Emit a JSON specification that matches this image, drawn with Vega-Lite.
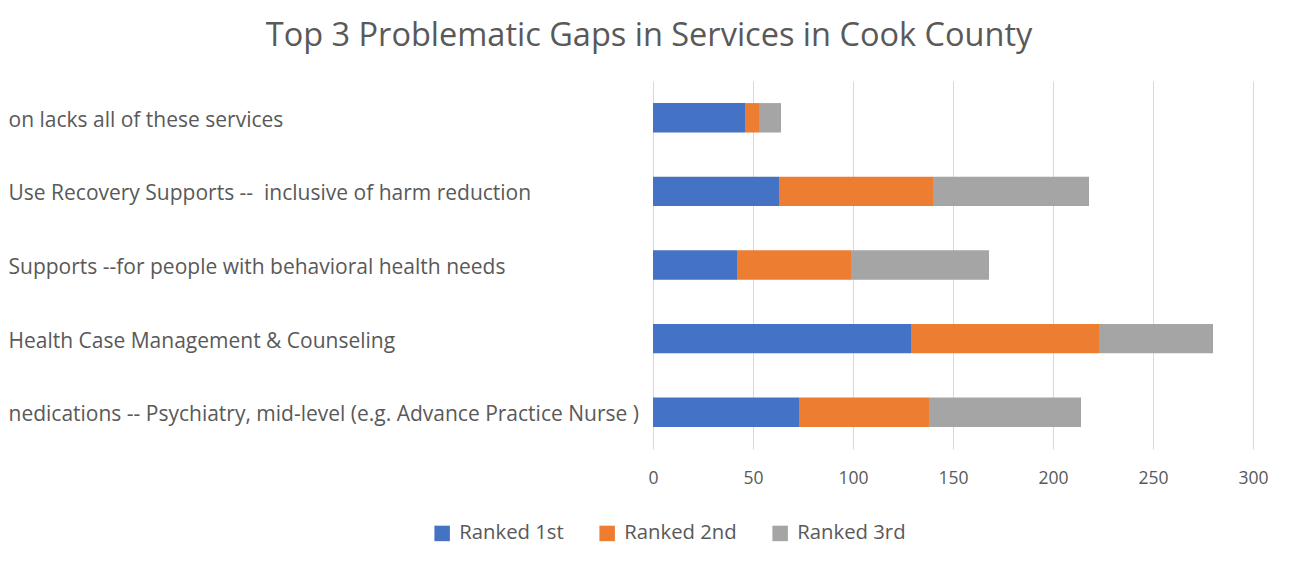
{
  "$schema": "https://vega.github.io/schema/vega-lite/v6.json",
  "width": 600,
  "height": 368,
  "autosize": {"type": "none"},
  "padding": {"left": 653, "top": 81, "right": 46, "bottom": 118},
  "background": "white",
  "title": {
    "text": "Top 3 Problematic Gaps in Services in Cook County",
    "fontSize": 32.5,
    "font": "Open Sans",
    "fontWeight": "normal",
    "color": "#595959",
    "anchor": "middle",
    "frame": "group",
    "dx": -304,
    "offset": 29
  },
  "data": {
    "values": [
      {"service": "on lacks all of these services", "rank": "Ranked 1st", "order": 1, "count": 46},
      {"service": "on lacks all of these services", "rank": "Ranked 2nd", "order": 2, "count": 7},
      {"service": "on lacks all of these services", "rank": "Ranked 3rd", "order": 3, "count": 11},
      {"service": "Use Recovery Supports --\u00a0 inclusive of harm reduction", "rank": "Ranked 1st", "order": 1, "count": 63},
      {"service": "Use Recovery Supports --\u00a0 inclusive of harm reduction", "rank": "Ranked 2nd", "order": 2, "count": 77},
      {"service": "Use Recovery Supports --\u00a0 inclusive of harm reduction", "rank": "Ranked 3rd", "order": 3, "count": 78},
      {"service": "Supports --for people with behavioral health needs", "rank": "Ranked 1st", "order": 1, "count": 42},
      {"service": "Supports --for people with behavioral health needs", "rank": "Ranked 2nd", "order": 2, "count": 57},
      {"service": "Supports --for people with behavioral health needs", "rank": "Ranked 3rd", "order": 3, "count": 69},
      {"service": "Health Case Management & Counseling", "rank": "Ranked 1st", "order": 1, "count": 129},
      {"service": "Health Case Management & Counseling", "rank": "Ranked 2nd", "order": 2, "count": 94},
      {"service": "Health Case Management & Counseling", "rank": "Ranked 3rd", "order": 3, "count": 57},
      {"service": "nedications -- Psychiatry, mid-level (e.g. Advance Practice Nurse )", "rank": "Ranked 1st", "order": 1, "count": 73},
      {"service": "nedications -- Psychiatry, mid-level (e.g. Advance Practice Nurse )", "rank": "Ranked 2nd", "order": 2, "count": 65},
      {"service": "nedications -- Psychiatry, mid-level (e.g. Advance Practice Nurse )", "rank": "Ranked 3rd", "order": 3, "count": 76}
    ]
  },
  "mark": {"type": "bar"},
  "encoding": {
    "y": {
      "field": "service",
      "type": "nominal",
      "sort": [
        "on lacks all of these services",
        "Use Recovery Supports --\u00a0 inclusive of harm reduction",
        "Supports --for people with behavioral health needs",
        "Health Case Management & Counseling",
        "nedications -- Psychiatry, mid-level (e.g. Advance Practice Nurse )"
      ],
      "scale": {"paddingInner": 0.6, "paddingOuter": 0.3},
      "axis": {
        "title": null,
        "domain": false,
        "ticks": false,
        "labelAlign": "left",
        "labelBaseline": "middle",
        "labelPadding": 645,
        "labelOffset": 3,
        "labelLimit": 0,
        "labelFont": "Open Sans",
        "labelFontSize": 21,
        "labelColor": "#595959"
      }
    },
    "x": {
      "field": "count",
      "type": "quantitative",
      "stack": "zero",
      "scale": {"domain": [0, 300], "nice": false},
      "axis": {
        "title": null,
        "values": [0, 50, 100, 150, 200, 250, 300],
        "domain": false,
        "ticks": false,
        "grid": true,
        "gridColor": "#D9D9D9",
        "gridWidth": 1,
        "labelPadding": 20,
        "labelFont": "Open Sans",
        "labelFontSize": 17.5,
        "labelColor": "#595959",
        "labelFlush": false
      }
    },
    "color": {
      "field": "rank",
      "type": "nominal",
      "scale": {
        "domain": ["Ranked 1st", "Ranked 2nd", "Ranked 3rd"],
        "range": ["#4472C4", "#ED7D31", "#A5A5A5"]
      },
      "legend": {
        "title": null,
        "orient": "none",
        "direction": "horizontal",
        "legendX": -221,
        "legendY": 442,
        "symbolType": "square",
        "symbolSize": 240,
        "symbolStrokeWidth": 0,
        "labelFont": "Open Sans",
        "labelFontSize": 20.3,
        "labelColor": "#595959",
        "labelOffset": 7,
        "columnPadding": 33
      }
    },
    "order": {"field": "order", "type": "quantitative"}
  },
  "config": {
    "view": {"stroke": null}
  }
}
